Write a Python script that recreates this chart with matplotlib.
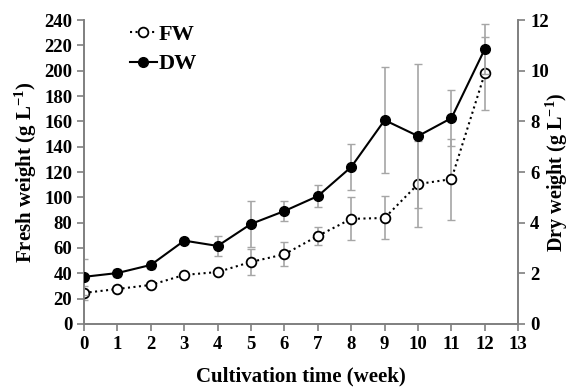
import matplotlib.pyplot as plt

# data
weeks = [0, 1, 2, 3, 4, 5, 6, 7, 8, 9, 10, 11, 12]
fw = [24.5, 27.6, 30.8, 38.7, 41, 49, 55, 69.5, 83, 83.7, 110.5, 114.4, 198]
fw_err = [5.5, 2, 2, 2.5, 2, 10, 9.5, 7, 17, 17, 34, 32, 29]
dw = [1.86, 2.01, 2.33, 3.29, 3.08, 3.95, 4.46, 5.05, 6.2, 8.05, 7.42, 8.13, 10.86]
dw_err = [0.7, 0.15, 0.15, 0.1, 0.4, 0.9, 0.4, 0.43, 0.9, 2.1, 2.85, 1.1, 1.0]

plt.rcParams["font.family"] = "Liberation Serif"
plt.rcParams["font.weight"] = "bold"
plt.rcParams["axes.labelweight"] = "bold"
plt.rcParams["mathtext.fontset"] = "custom"
plt.rcParams["mathtext.rm"] = "Liberation Serif:bold"
plt.rcParams["mathtext.bf"] = "Liberation Serif:bold"
plt.rcParams["mathtext.default"] = "bf"

axis_col = "#7f7f7f"
err_col = "#a6a6a6"

fig = plt.figure(figsize=(5.72, 3.87), dpi=100)
ax = fig.add_axes([0.147, 0.163, 0.759, 0.785])
ax2 = ax.twinx()

# error bars first (grey)
ax.errorbar(weeks, fw, yerr=fw_err, fmt="none", ecolor=err_col, elinewidth=1.2, capsize=3, zorder=1)
ax2.errorbar(weeks, dw, yerr=dw_err, fmt="none", ecolor=err_col, elinewidth=1.2, capsize=3, zorder=1)

# lines
l1, = ax.plot(weeks, fw, linestyle=":", color="black", linewidth=1.5, marker="o", markersize=7,
              markerfacecolor="white", markeredgecolor="black", markeredgewidth=1.3, label="FW", zorder=3)
l2, = ax2.plot(weeks, dw, linestyle="-", color="black", linewidth=1.5, marker="o", markersize=7,
               markerfacecolor="black", markeredgecolor="black", label="DW", zorder=3)

ax.set_xlim(0, 13)
ax.set_ylim(0, 240)
ax2.set_ylim(0, 12)
ax.set_xticks(range(0, 14))
ax.set_yticks(range(0, 241, 20))
ax2.set_yticks(range(0, 13, 2))

for a in (ax, ax2):
    a.spines["top"].set_visible(False)
    for s in ("left", "right", "bottom"):
        a.spines[s].set_color(axis_col)
        a.spines[s].set_linewidth(1.2)
    a.tick_params(axis="both", colors=axis_col, labelcolor="black", labelsize=13.5, length=5, width=1.2)

ax.set_xlabel("Cultivation time (week)", fontsize=15, labelpad=10)
ax.set_ylabel("Fresh weight (g L$^{-1}$)", fontsize=15, labelpad=4)
# right label placed by hand so it stays inside the figure
fig.text(0.997, 0.555, "Dry weight (g L$^{-1}$)", rotation=90, ha="right", va="center",
         fontsize=14.5, fontweight="bold")

leg = ax.legend([l1, l2], ["FW", "DW"], loc="upper left", bbox_to_anchor=(0.085, 1.015),
                frameon=False, fontsize=16, handlelength=1.2, handletextpad=0.1, labelspacing=0.4,
                borderaxespad=0)

fig.savefig("out.png", dpi=100)
